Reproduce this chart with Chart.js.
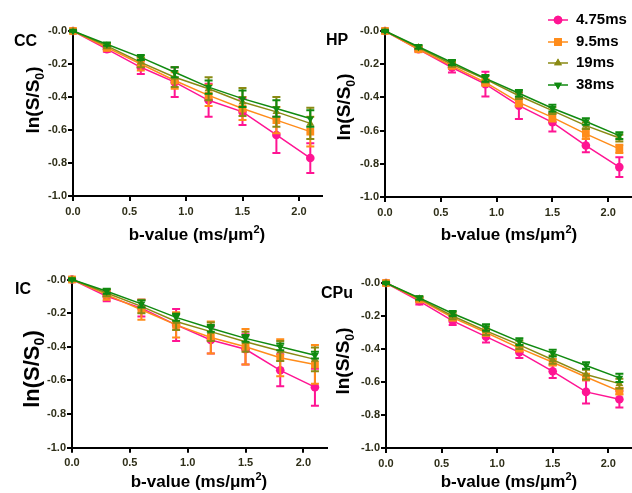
<!DOCTYPE html>
<html>
<head>
<meta charset="utf-8">
<script src="https://cdn.jsdelivr.net/npm/chart.js@4.4.1/dist/chart.umd.min.js"></script>
<style>
  body { margin: 0; background: #fff; width: 632px; height: 493px; overflow: hidden; position: relative;
         font-family: "Liberation Sans", Arial, sans-serif; font-weight: bold; color: #000; }
  canvas { position: absolute; }
  .lab { position: absolute; font-size: 16px; line-height: 16px; }
  .ytitle { position: absolute; width: 140px; height: 24px; line-height: 24px; text-align: center;
            transform: rotate(-90deg); transform-origin: 50% 50%; white-space: nowrap; }
  .xtitle { position: absolute; width: 200px; text-align: center; font-size: 17px; line-height: 18px; white-space: nowrap; }
  sub, sup { font-size: 65%; line-height: 0; }
  #legend { position: absolute; left: 546px; top: 8px; font-size: 15px; }
  #legend div { height: 21.5px; line-height: 21.5px; white-space: nowrap; }
  #legend canvas { position: static; vertical-align: middle; margin-right: 6px; }
</style>
</head>
<body>
<canvas id="cc"></canvas>
<canvas id="hp"></canvas>
<canvas id="ic"></canvas>
<canvas id="cpu"></canvas>

<div class="lab" style="left:14px;top:33px">CC</div>
<div class="lab" style="left:326px;top:32px">HP</div>
<div class="lab" style="left:15px;top:281px">IC</div>
<div class="lab" style="left:321px;top:285px">CPu</div>

<div class="ytitle" style="left:-37px;top:88px;font-size:19px">ln(S/S<sub>0</sub>)</div>
<div class="ytitle" style="left:274px;top:95px;font-size:19px">ln(S/S<sub>0</sub>)</div>
<div class="ytitle" style="left:-38px;top:357px;font-size:22px">ln(S/S<sub>0</sub>)</div>
<div class="ytitle" style="left:273px;top:349px;font-size:19px">ln(S/S<sub>0</sub>)</div>

<div class="xtitle" style="left:97px;top:226px">b-value (ms/&mu;m<sup>2</sup>)</div>
<div class="xtitle" style="left:409px;top:226px">b-value (ms/&mu;m<sup>2</sup>)</div>
<div class="xtitle" style="left:99px;top:473px">b-value (ms/&mu;m<sup>2</sup>)</div>
<div class="xtitle" style="left:409px;top:473px">b-value (ms/&mu;m<sup>2</sup>)</div>

<div id="legend"></div>

<script>
// b-values (ms/um^2)
const bValues = [0, 0.3, 0.6, 0.9, 1.2, 1.5, 1.8, 2.1];
const xTicks = [0, 0.5, 1.0, 1.5, 2.0];
const yTicks = [0, -0.2, -0.4, -0.6, -0.8, -1.0];
const seriesNames = ['4.75ms', '9.5ms', '19ms', '38ms'];

// CC
const cc475 = [0, -0.11, -0.22, -0.31, -0.42, -0.49, -0.63, -0.77];
const cc95  = [0, -0.10, -0.20, -0.30, -0.39, -0.47, -0.54, -0.61];
const cc19  = [0, -0.09, -0.19, -0.28, -0.35, -0.43, -0.49, -0.56];
const cc38  = [0, -0.08, -0.16, -0.25, -0.34, -0.41, -0.47, -0.53];
const cc475Err = [0.005, 0.015, 0.04, 0.09, 0.10, 0.08, 0.11, 0.09];
const cc95Err  = [0.005, 0.02, 0.04, 0.05, 0.065, 0.07, 0.08, 0.09];
const cc19Err  = [0.005, 0.015, 0.03, 0.06, 0.07, 0.085, 0.09, 0.095];
const cc38Err  = [0.005, 0.01, 0.015, 0.03, 0.04, 0.05, 0.05, 0.05];

// HP
const hp475 = [0, -0.11, -0.22, -0.32, -0.45, -0.55, -0.69, -0.82];
const hp95  = [0, -0.11, -0.21, -0.31, -0.43, -0.52, -0.62, -0.71];
const hp19  = [0, -0.10, -0.20, -0.29, -0.39, -0.48, -0.57, -0.645];
const hp38  = [0, -0.095, -0.19, -0.285, -0.375, -0.465, -0.545, -0.63];
const hp475Err = [0.005, 0.015, 0.03, 0.075, 0.08, 0.055, 0.04, 0.06];
const hp95Err  = [0.005, 0.01, 0.015, 0.02, 0.025, 0.025, 0.03, 0.025];
const hp19Err  = [0.005, 0.01, 0.015, 0.02, 0.02, 0.02, 0.02, 0.02];
const hp38Err  = [0.005, 0.01, 0.015, 0.02, 0.02, 0.02, 0.02, 0.02];

// IC
const ic475 = [0, -0.10, -0.17, -0.27, -0.36, -0.415, -0.54, -0.64];
const ic95  = [0, -0.09, -0.18, -0.27, -0.345, -0.40, -0.465, -0.505];
const ic19  = [0, -0.08, -0.16, -0.25, -0.31, -0.37, -0.425, -0.475];
const ic38  = [0, -0.07, -0.145, -0.225, -0.29, -0.35, -0.40, -0.45];
const ic475Err = [0.005, 0.03, 0.05, 0.095, 0.08, 0.09, 0.095, 0.11];
const ic95Err  = [0.005, 0.03, 0.06, 0.075, 0.095, 0.105, 0.11, 0.115];
const ic19Err  = [0.005, 0.02, 0.04, 0.05, 0.055, 0.06, 0.06, 0.07];
const ic38Err  = [0.005, 0.015, 0.02, 0.02, 0.02, 0.02, 0.02, 0.02];

// CPu
const cpu475 = [0, -0.11, -0.23, -0.325, -0.42, -0.535, -0.66, -0.705];
const cpu95  = [0, -0.10, -0.21, -0.30, -0.395, -0.48, -0.57, -0.655];
const cpu19  = [0, -0.095, -0.20, -0.29, -0.375, -0.465, -0.555, -0.61];
const cpu38  = [0, -0.09, -0.185, -0.27, -0.355, -0.425, -0.50, -0.575];
const cpu475Err = [0.005, 0.02, 0.025, 0.035, 0.035, 0.04, 0.07, 0.05];
const cpu95Err  = [0.005, 0.01, 0.015, 0.02, 0.02, 0.02, 0.02, 0.02];
const cpu19Err  = [0.005, 0.01, 0.02, 0.025, 0.025, 0.025, 0.03, 0.03];
const cpu38Err  = [0.005, 0.01, 0.015, 0.02, 0.02, 0.02, 0.02, 0.025];

const colors = ['#ff1493', '#ff8c1a', '#8a8a14', '#108a10'];
const shapes = ['circle', 'rect', 'triangle', 'triangle'];
const rotations = [0, 0, 0, 180];
const radii = [4.3, 5.5, 4.5, 4.5];
const tickColor = '#2e2e18';

// error bars drawn under each dataset's line and markers
const errorBars = {
  id: 'errorBars',
  beforeDatasetDraw(chart, args) {
    const ds = chart.data.datasets[args.index];
    if (!ds.errors) return;
    const xs = chart.scales.x, ys = chart.scales.y, ctx = chart.ctx;
    ctx.save();
    ctx.strokeStyle = ds.borderColor;
    ctx.lineWidth = 2;
    ds.data.forEach(function (p, i) {
      const e = ds.errors[i];
      const px = xs.getPixelForValue(p.x);
      const top = ys.getPixelForValue(p.y + e);
      const bot = ys.getPixelForValue(p.y - e);
      ctx.beginPath();
      ctx.moveTo(px, top); ctx.lineTo(px, bot);
      ctx.moveTo(px - 4, top); ctx.lineTo(px + 4, top);
      ctx.moveTo(px - 4, bot); ctx.lineTo(px + 4, bot);
      ctx.stroke();
    });
    ctx.restore();
  }
};

function makeChart(id, means, errs, g) {
  const cv = document.getElementById(id);
  cv.style.left = g.left + 'px';
  cv.style.top = g.top + 'px';
  cv.width = g.width;
  cv.height = g.height;
  cv.style.width = g.width + 'px';
  cv.style.height = g.height + 'px';

  const datasets = means.map(function (m, s) {
    return {
      label: seriesNames[s],
      data: bValues.map(function (b, i) { return { x: b, y: m[i] }; }),
      errors: errs[s],
      showLine: true,
      borderColor: colors[s],
      backgroundColor: colors[s],
      borderWidth: 1.5,
      pointStyle: shapes[s],
      pointRotation: rotations[s],
      pointRadius: radii[s],
      pointBorderWidth: 0,
      order: 4 - s,
      clip: false
    };
  });

  return new Chart(cv, {
    type: 'scatter',
    data: { datasets: datasets },
    plugins: [errorBars],
    options: {
      responsive: false,
      animation: false,
      events: [],
      layout: { padding: { top: g.padTop, right: g.padRight, left: 0, bottom: 0 } },
      plugins: { legend: { display: false }, tooltip: { enabled: false } },
      scales: {
        x: {
          type: 'linear', min: 0, max: 2.2,
          afterBuildTicks: function (sc) { sc.ticks = xTicks.map(function (v) { return { value: v }; }); },
          afterFit: function (sc) { sc.height = g.xHeight; },
          grid: { drawOnChartArea: false, color: '#000', lineWidth: 2, tickLength: 5 },
          border: { color: '#000', width: 2 },
          ticks: {
            color: tickColor, padding: 4,
            font: { family: 'Liberation Sans', size: 11, weight: 'bold' },
            callback: function (v) { return v.toFixed(1); }
          }
        },
        y: {
          type: 'linear', min: -1, max: 0,
          afterBuildTicks: function (sc) { sc.ticks = yTicks.map(function (v) { return { value: v }; }); },
          afterFit: function (sc) { sc.width = g.yWidth; },
          grid: { drawOnChartArea: false, color: '#000', lineWidth: 2, tickLength: 5 },
          border: { color: '#000', width: 2 },
          ticks: {
            color: tickColor, padding: 1,
            font: { family: 'Liberation Sans', size: 11, weight: 'bold' },
            callback: function (v) { return v === 0 ? '-0.0' : v.toFixed(1); }
          }
        }
      }
    }
  });
}

makeChart('cc', [cc475, cc95, cc19, cc38], [cc475Err, cc95Err, cc19Err, cc38Err],
  { left: 0, top: 0, width: 330, height: 246, yWidth: 73, padTop: 31, padRight: 8.4, xHeight: 50 });
makeChart('hp', [hp475, hp95, hp19, hp38], [hp475Err, hp95Err, hp19Err, hp38Err],
  { left: 316, top: 0, width: 320, height: 246, yWidth: 69, padTop: 31, padRight: 2.4, xHeight: 49 });
makeChart('ic', [ic475, ic95, ic19, ic38], [ic475Err, ic95Err, ic19Err, ic38Err],
  { left: 0, top: 246, width: 332, height: 247, yWidth: 72, padTop: 33.5, padRight: 5.5, xHeight: 45.3 });
makeChart('cpu', [cpu475, cpu95, cpu19, cpu38], [cpu475Err, cpu95Err, cpu19Err, cpu38Err],
  { left: 316, top: 246, width: 320, height: 247, yWidth: 70, padTop: 37, padRight: 2.5, xHeight: 45 });

// legend: line segment with marker, then name
const legend = document.getElementById('legend');
seriesNames.forEach(function (name, s) {
  const row = document.createElement('div');
  const c = document.createElement('canvas');
  c.width = 24; c.height = 14;
  const ctx = c.getContext('2d');
  ctx.strokeStyle = colors[s];
  ctx.fillStyle = colors[s];
  ctx.lineWidth = 1.5;
  ctx.beginPath(); ctx.moveTo(2, 7); ctx.lineTo(22, 7); ctx.stroke();
  Chart.helpers.drawPoint(ctx, { pointStyle: shapes[s], rotation: rotations[s], radius: radii[s], borderWidth: 0 }, 12, 7);
  ctx.fill();
  row.appendChild(c);
  row.appendChild(document.createTextNode(name));
  legend.appendChild(row);
});
</script>
</body>
</html>
